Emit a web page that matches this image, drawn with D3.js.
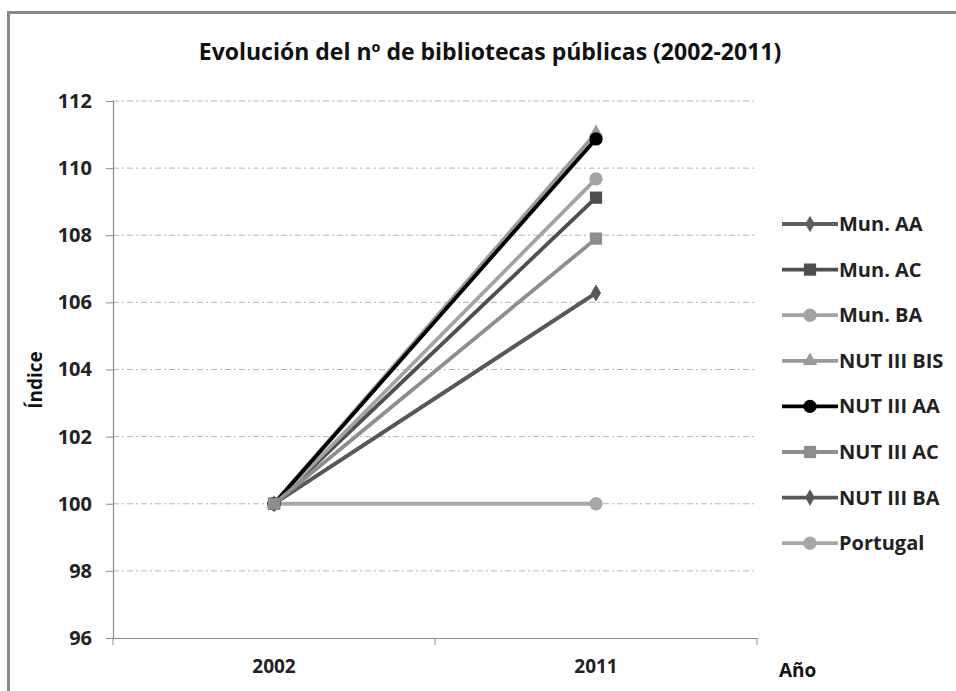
<!DOCTYPE html>
<html><head><meta charset="utf-8">
<script src="https://cdn.jsdelivr.net/npm/d3@7"></script>
<style>body{margin:0;background:#fff}svg{display:block}</style>
</head><body>
<script>
const years = ["2002", "2011"];
const seriesNames = ["Mun. AA","Mun. AC","Mun. BA","NUT III BIS","NUT III AA","NUT III AC","NUT III BA","Portugal"];
const munAA = [100, 106.28];
const munAC = [100, 109.12];
const munBA = [100, 109.68];
const nutBIS = [100, 111.05];
const nutAA = [100, 110.87];
const nutAC = [100, 107.9];
const nutBA = [100, 106.28];
const portugal = [100, 100];
const yTicks = [96, 98, 100, 102, 104, 106, 108, 110, 112];
const seriesValues = [munAA, munAC, munBA, nutBIS, nutAA, nutAC, nutBA, portugal];
const colors = ["#5e5e5e","#4f4f4f","#a3a3a3","#9a9a9a","#000000","#8e8e8e","#585858","#a8a8a8"];
const symbols = [d3.symbolDiamond, d3.symbolSquare, d3.symbolCircle, d3.symbolTriangle, d3.symbolCircle, d3.symbolSquare, d3.symbolDiamond, d3.symbolCircle];
const symSizes = [80, 150, 140, 90, 140, 150, 80, 140];

const W = 956, H = 691;
const svg = d3.select("body").append("svg").attr("width", W).attr("height", H);
const font = "'Open Sans', Lato, sans-serif";

svg.append("rect").attr("x", 8.5).attr("y", 12.5).attr("width", 970).attr("height", 720)
  .attr("fill", "#fff").attr("stroke", "#8a8a8a").attr("stroke-width", 3);

const mLeft = 113, mRight = 757, mTop = 101, mBottom = 638;
const x = d3.scaleBand().domain(years).range([mLeft, mRight]);
const y = d3.scaleLinear().domain([96, 112]).range([mBottom, mTop]);

// gridlines
svg.append("g").selectAll("line").data(yTicks.filter(t => t > 96)).join("line")
  .attr("x1", mLeft).attr("x2", mRight).attr("y1", d => y(d)).attr("y2", d => y(d))
  .attr("stroke", "#b5b5b5").attr("stroke-width", 1).attr("stroke-dasharray", "6,3,2,3");

// y axis
const yAxis = d3.axisLeft(y).tickValues(yTicks).tickSize(7).tickPadding(14);
const gy = svg.append("g").attr("transform", `translate(${mLeft},0)`).call(yAxis);
gy.select(".domain").attr("stroke", "#8c8c8c").attr("stroke-width", 1.2);
gy.selectAll(".tick line").attr("stroke", "#8c8c8c");
gy.selectAll("text").attr("font-family", font).attr("font-weight", "bold").attr("font-size", 20).attr("fill", "#222");

// x axis
const xAxis = d3.axisBottom(x).tickSize(0).tickPadding(22);
const gx = svg.append("g").attr("transform", `translate(0,${mBottom})`).call(xAxis);
gx.select(".domain").attr("stroke", "#8c8c8c").attr("stroke-width", 1.2);
gx.selectAll("text").attr("font-family", font).attr("font-weight", "bold").attr("font-size", 19).attr("fill", "#222");
const bounds = [mLeft, mLeft + x.bandwidth(), mRight];
gx.selectAll(".bound").data(bounds).join("line").attr("class", "bound")
  .attr("x1", d => d).attr("x2", d => d).attr("y1", 0).attr("y2", 7).attr("stroke", "#8c8c8c");

// lines
const line = d3.line().x((d, i) => x(years[i]) + x.bandwidth() / 2).y(d => y(d));
const order = [7, 0, 6, 1, 2, 3, 4, 5];
const g = svg.append("g");
order.forEach(i => {
  g.append("path").datum(seriesValues[i]).attr("d", line).attr("fill", "none")
    .attr("stroke", colors[i]).attr("stroke-width", 3.8);
});
order.forEach(i => {
  seriesValues[i].forEach((v, j) => {
    g.append("path").attr("d", d3.symbol().type(symbols[i]).size(symSizes[i])())
      .attr("transform", `translate(${x(years[j]) + x.bandwidth() / 2},${y(v)})`)
      .attr("fill", colors[i]);
  });
});

// legend
const lg = svg.append("g");
seriesNames.forEach((n, i) => {
  const ly = 224 + i * 45.6;
  lg.append("line").attr("x1", 782).attr("x2", 838).attr("y1", ly).attr("y2", ly)
    .attr("stroke", colors[i]).attr("stroke-width", 3.8);
  lg.append("path").attr("d", d3.symbol().type(symbols[i]).size(symSizes[i])())
    .attr("transform", `translate(810,${ly})`).attr("fill", colors[i]);
  lg.append("text").attr("x", 839).attr("y", ly + 7).text(n)
    .attr("font-family", font).attr("font-weight", "bold").attr("font-size", 20).attr("fill", "#222");
});

// title and labels
svg.append("text").attr("x", 490).attr("y", 60).attr("text-anchor", "middle")
  .attr("font-family", font).attr("font-weight", "bold").attr("font-size", 23).attr("fill", "#111")
  .text("Evolución del nº de bibliotecas públicas (2002-2011)");
svg.append("text").attr("transform", "translate(42,380) rotate(-90)").attr("text-anchor", "middle")
  .attr("font-family", font).attr("font-weight", "bold").attr("font-size", 19).attr("fill", "#111").text("Índice");
svg.append("text").attr("x", 779).attr("y", 677)
  .attr("font-family", font).attr("font-weight", "bold").attr("font-size", 19).attr("fill", "#111").text("Año");
</script>
</body></html>
